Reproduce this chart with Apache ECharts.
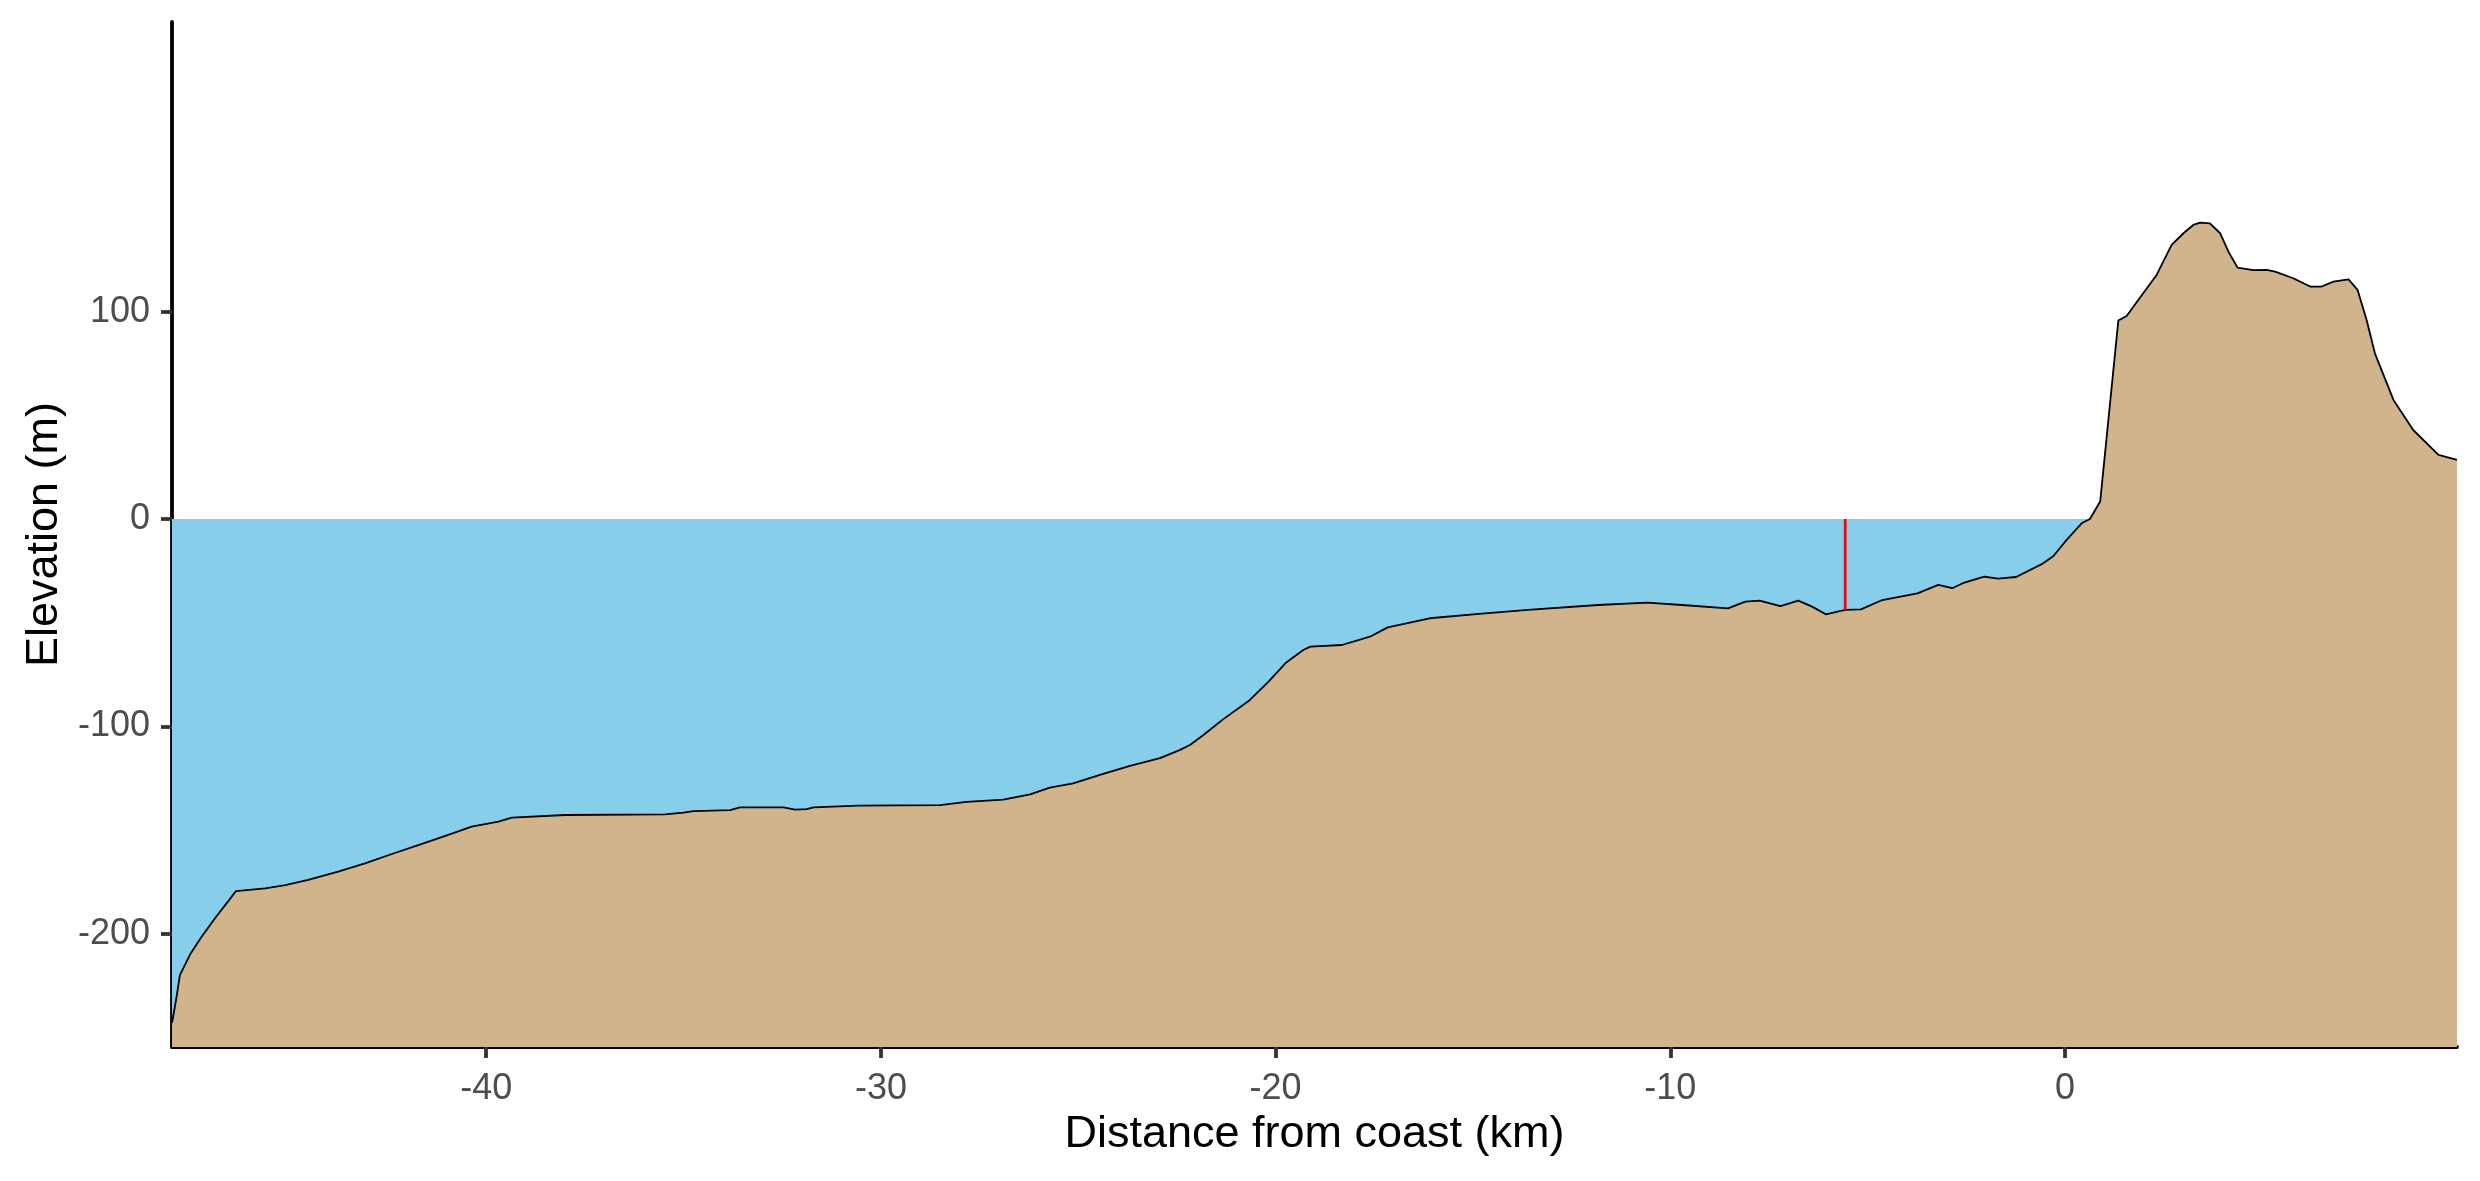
<!DOCTYPE html>
<html>
<head>
<meta charset="utf-8">
<script src="https://cdn.jsdelivr.net/npm/echarts@6/dist/echarts.min.js"></script>
<style>
html,body{margin:0;padding:0;background:#fff;}
#chart{width:2480px;height:1181px;}
</style>
</head>
<body>
<div id="chart"></div>
<script>
// Distance from coast (km) and elevation (m) of the profile
const distanceKm = [
  -47.96, -47.93, -47.84, -47.76, -47.50, -47.21, -46.87, -46.34, -45.60, -45.09,
  -44.51, -43.75, -43.07, -42.39, -41.72, -40.96, -40.37, -39.69, -39.35, -38.00,
  -35.47, -35.00, -34.75, -33.82, -33.57, -32.47, -32.17, -31.88, -31.71, -30.57,
  -28.50, -27.83, -26.90, -26.22, -25.72, -25.13, -24.41, -23.69, -22.93, -22.42,
  -22.17, -21.83, -21.34, -20.65, -20.18, -19.73, -19.30, -19.12, -18.32, -17.61,
  -17.16, -16.10, -14.85, -13.61, -11.83, -10.59, -9.70, -8.54, -8.10, -7.74,
  -7.21, -6.76, -6.41, -6.06, -5.57, -5.17, -4.63, -3.74, -3.21, -2.86,
  -2.59, -2.05, -1.70, -1.24, -0.59, -0.30, 0.04, 0.42, 0.63, 0.89,
  1.35, 1.56, 1.98, 2.32, 2.70, 3.00, 3.25, 3.42, 3.67, 3.93,
  4.14, 4.37, 4.77, 5.11, 5.32, 5.78, 6.21, 6.50, 6.80, 7.18,
  7.41, 7.64, 7.85, 8.32, 8.82, 9.46, 9.93
];
const elevationM = [
  -243, -240, -230, -220, -210, -201.5, -192.6, -179.5, -178.2, -176.6,
  -174.1, -170.1, -166.1, -161.6, -157.3, -152.4, -148.4, -146.0, -144.1, -142.8,
  -142.5, -141.7, -140.9, -140.4, -139.1, -139.1, -140.2, -140.0, -139.1, -138.3,
  -138.0, -136.5, -135.4, -132.8, -129.6, -127.5, -123.2, -119.1, -115.4, -111.4,
  -109.0, -104.2, -96.8, -87.3, -78.5, -69.2, -63.2, -61.6, -60.8, -56.8,
  -52.3, -47.9, -45.8, -43.9, -41.5, -40.4, -41.5, -43.1, -39.9, -39.4,
  -42.0, -39.4, -42.3, -46.0, -43.9, -43.6, -39.1, -35.9, -31.8, -33.4,
  -31.0, -27.8, -28.8, -28.0, -21.8, -18.0, -10.1, -2.1, 0, 8.4,
  95.7, 97.9, 108.9, 117.7, 132.2, 137.8, 141.8, 142.9, 142.6, 137.8,
  128.9, 121.2, 120.0, 120.1, 119.3, 116.1, 112.1, 112.1, 114.5, 115.6,
  110.5, 96.0, 79.9, 57.4, 42.9, 30.9, 28.5
];
// Sea level band and marker position
const seaLevelM = 0;
const markerKm = -5.57;
const markerBottomM = -43.9;
// Axis ticks
const xTicks = [-40, -30, -20, -10, 0];
const yTicks = [-200, -100, 0, 100];
const xRange = [-47.96, 9.93];
const yRange = [-254.7, 239.7];

const terrain = distanceKm.map((d, i) => [d, elevationM[i]]);
const sea = [[xRange[0], seaLevelM], [xRange[1], seaLevelM]];
const marker = [[markerKm, seaLevelM], [markerKm, markerBottomM]];

const FONT = "'Liberation Sans', Arial, sans-serif";
const chart = echarts.init(document.getElementById('chart'));
chart.setOption({
  animation: false,
  backgroundColor: '#ffffff',
  grid: { left: 172, right: 23, top: 22, bottom: 134, containLabel: false },
  xAxis: {
    type: 'value', min: xRange[0], max: xRange[1],
    name: 'Distance from coast (km)', nameLocation: 'middle', nameGap: 60,
    nameTextStyle: { fontSize: 45, color: '#000', fontFamily: FONT },
    axisLine: { show: true, onZero: false, lineStyle: { color: '#000', width: 3.8 } },
    axisTick: { show: true, customValues: xTicks, length: 11, lineStyle: { color: '#333', width: 3.8 } },
    axisLabel: { customValues: xTicks, fontSize: 36, color: '#4D4D4D', margin: 24, fontFamily: FONT },
    splitLine: { show: false }
  },
  yAxis: {
    type: 'value', min: yRange[0], max: yRange[1],
    name: 'Elevation (m)', nameLocation: 'middle', nameGap: 105, nameRotate: 90,
    nameTextStyle: { fontSize: 45, color: '#000', fontFamily: FONT },
    axisLine: { show: true, onZero: false, lineStyle: { color: '#000', width: 3.8 } },
    axisTick: { show: true, customValues: yTicks, length: 11, lineStyle: { color: '#333', width: 3.8 } },
    axisLabel: { customValues: yTicks, fontSize: 36, color: '#4D4D4D', margin: 22, fontFamily: FONT },
    splitLine: { show: false }
  },
  series: [
    {
      name: 'sea', type: 'line', data: sea, symbol: 'none', silent: true,
      lineStyle: { width: 0, color: '#87CEEB' },
      areaStyle: { color: '#87CEEB', opacity: 1, origin: 'start' },
      z: 1
    },
    {
      name: 'terrain', type: 'line', data: terrain, symbol: 'none', silent: true,
      lineStyle: { width: 1.8, color: '#000' },
      areaStyle: { color: '#D2B48C', opacity: 1, origin: 'start' },
      z: 2
    },
    {
      name: 'marker', type: 'line', data: marker, symbol: 'none', silent: true,
      lineStyle: { width: 2.8, color: '#FF0000' },
      z: 3
    }
  ]
});
</script>
</body>
</html>
